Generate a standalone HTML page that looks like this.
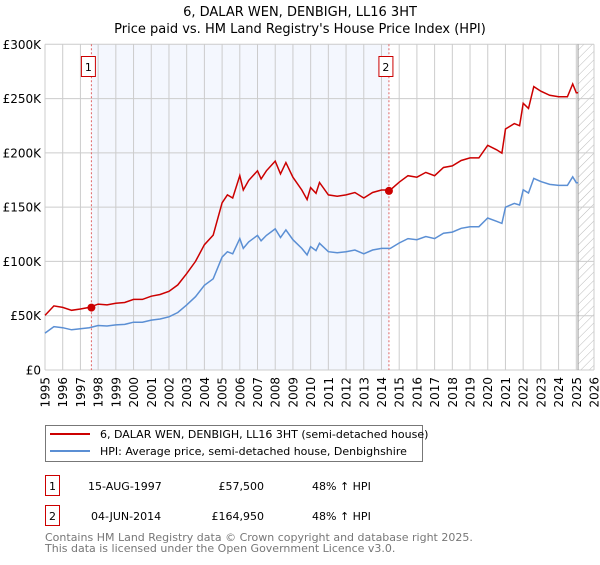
<!DOCTYPE html>
<html><head><meta charset="utf-8"><style>
body{margin:0;background:#fff;font-family:"Liberation Sans","DejaVu Sans",sans-serif;}
svg text{font-family:"DejaVu Sans","Liberation Sans",sans-serif;}
</style></head><body>
<svg id="chart" width="600" height="560" xmlns="http://www.w3.org/2000/svg">
<defs><pattern id="hatch" width="6" height="6" patternUnits="userSpaceOnUse" patternTransform="rotate(45)"><line x1="0" y1="0" x2="0" y2="6" stroke="#bbb" stroke-width="1"/></pattern></defs>
<text x="300" y="16" text-anchor="middle" font-size="13">6, DALAR WEN, DENBIGH, LL16 3HT</text>
<text x="300" y="33" text-anchor="middle" font-size="13">Price paid vs. HM Land Registry's House Price Index (HPI)</text>
<g id="plot"></g>
<g>
<rect x="45.5" y="425.5" width="377" height="36" fill="#fff" stroke="#777"/>
<line x1="50" y1="434" x2="90" y2="434" stroke="#cc0000" stroke-width="2"/>
<text x="100" y="438" font-size="11">6, DALAR WEN, DENBIGH, LL16 3HT (semi-detached house)</text>
<line x1="50" y1="451" x2="90" y2="451" stroke="#5b8fd4" stroke-width="2"/>
<text x="100" y="455" font-size="11">HPI: Average price, semi-detached house, Denbighshire</text>
</g>
<g font-size="11">
<rect x="45.5" y="475.5" width="14" height="20" fill="#fff" stroke="#cc0000"/>
<text x="52.5" y="490" text-anchor="middle">1</text>
<text x="88" y="490">15-AUG-1997</text>
<text x="264" y="490" text-anchor="end">£57,500</text>
<text x="312" y="490">48% ↑ HPI</text>
<rect x="45.5" y="505.5" width="14" height="20" fill="#fff" stroke="#cc0000"/>
<text x="52.5" y="520" text-anchor="middle">2</text>
<text x="91" y="520">04-JUN-2014</text>
<text x="264" y="520" text-anchor="end">£164,950</text>
<text x="312" y="520">48% ↑ HPI</text>
</g>
<text x="45" y="541" font-size="11" fill="#777">Contains HM Land Registry data © Crown copyright and database right 2025.</text>
<text x="45" y="552" font-size="11" fill="#777">This data is licensed under the Open Government Licence v3.0.</text>
</svg>
<script>
const years=[1995,1995.5,1996,1996.5,1997,1997.5,1998,1998.5,1999,1999.5,2000,2000.5,2001,2001.5,2002,2002.5,2003,2003.5,2004,2004.5,2005,2005.3,2005.6,2006,2006.2,2006.5,2007,2007.2,2007.5,2008,2008.3,2008.6,2009,2009.5,2009.8,2010,2010.3,2010.5,2011,2011.5,2012,2012.5,2013,2013.5,2014,2014.5,2015,2015.5,2016,2016.5,2017,2017.5,2018,2018.5,2019,2019.5,2020,2020.5,2020.8,2021,2021.5,2021.8,2022,2022.3,2022.6,2023,2023.5,2024,2024.5,2024.8,2025.0,2025.1];
const hpiValues=[34,40,39,37,38,39,41,40.5,41.5,42,44,44,46,47,49,53,60,67.5,78,84,104,109,107,121,112,118,124,119,124,130,122,129,120,112,106,113.6,110,116.7,109,108,109,110.5,107,110.5,112,112,117,121,120,123,121,126,127,130.5,132,132,140,137,135,150,153.5,152,166,163,176.5,173.5,171,170,170,178,172.5,172.5];
const propertyValues=[50.3,59,57.7,55,56.2,57.7,60.7,60,61.4,62.2,65,65,68,69.5,72.5,78.4,88.8,100,115.4,124.3,154,161.3,158.4,179,165.8,174.6,183.5,176,183.5,192.4,180.6,191,177.6,165.8,157,168,162.8,172.7,161.3,160,161.3,163.5,158.4,163.5,165.8,165.8,173,179,177.6,182,179,186.5,188,193,195.4,195.4,207,202.8,199.8,222,227,225,245.7,241,261,256.8,253,251.6,251.6,263.4,255.3,255.3];
const saleYears=[1997.62,2014.42];
const salePrices=[57.5,164.95];
const saleLabels=["1","2"];
const yTicks=[0,50,100,150,200,250,300];
const yTickLabels=["£0","£50K","£100K","£150K","£200K","£250K","£300K"];
const xTicks=[];for(let y=1995;y<=2026;y++)xTicks.push(y);

const NS="http://www.w3.org/2000/svg";
const L=45,R=594,T=44.3,B=370;
const X=v=>L+(v-1995)/(2026-1995)*(R-L);
const Y=v=>B-v/300*(B-T);
const BOX_OFFSET=-10;
const g=document.getElementById('plot');
function el(tag,attrs,parent){const e=document.createElementNS(NS,tag);for(const k in attrs)e.setAttribute(k,attrs[k]);(parent||g).appendChild(e);return e;}

let r=el('rect',{x:X(saleYears[0]),y:T,width:X(saleYears[1])-X(saleYears[0]),height:B-T,fill:'#f4f7fe'});


r=el('rect',{x:X(2025.1),y:T,width:R-X(2025.1),height:B-T,fill:'url(#hatch)'});



xTicks.forEach((t,i)=>{
 const ln=el('line',{x1:X(t),x2:X(t),y1:T,y2:B,stroke:'#ccc','stroke-width':1});
 
 
 const tx=el('text',{x:0,y:0,'font-size':12,'text-anchor':'end',transform:`translate(${X(t)+4.5},${B+7}) rotate(-90)`});
 tx.textContent=t;
 
 
});
yTicks.forEach((t,i)=>{
 const ln=el('line',{x1:L,x2:R,y1:Y(t),y2:Y(t),stroke:'#ccc','stroke-width':1});
 
 
 const tx=el('text',{x:L-4,y:Y(t)+4.5,'font-size':12,'text-anchor':'end'});
 tx.textContent=yTickLabels[i];
 
 
});
let vl=el('line',{x1:X(2025.1),x2:X(2025.1),y1:T,y2:B,stroke:'#999','stroke-width':1});



saleYears.forEach((sy,i)=>{
 const ln=el('line',{x1:X(sy),x2:X(sy),y1:T,y2:B,stroke:'#e06666','stroke-width':1,'stroke-dasharray':'2,2'});
 
 
 const bx=el('rect',{x:X(sy)+BOX_OFFSET,y:56.5,width:14,height:20,fill:'#fff',stroke:'#cc0000'});
 
 
 const tx=el('text',{x:X(sy)+BOX_OFFSET+7,y:71,'font-size':11,'text-anchor':'middle'});
 tx.textContent=saleLabels[i];
 
 
});

const pts=a=>a.map((v,i)=>X(years[i]).toFixed(1)+','+Y(v).toFixed(1)).join(' ');
let p=el('polyline',{points:pts(hpiValues),fill:'none',stroke:'#5b8fd4','stroke-width':1.5});


p=el('polyline',{points:pts(propertyValues),fill:'none',stroke:'#cc0000','stroke-width':1.5});


saleYears.forEach((sy,i)=>{
 const c=el('circle',{cx:X(sy),cy:Y(salePrices[i]),r:4,fill:'#cc0000'});
 
 
});
</script>
</body></html>
